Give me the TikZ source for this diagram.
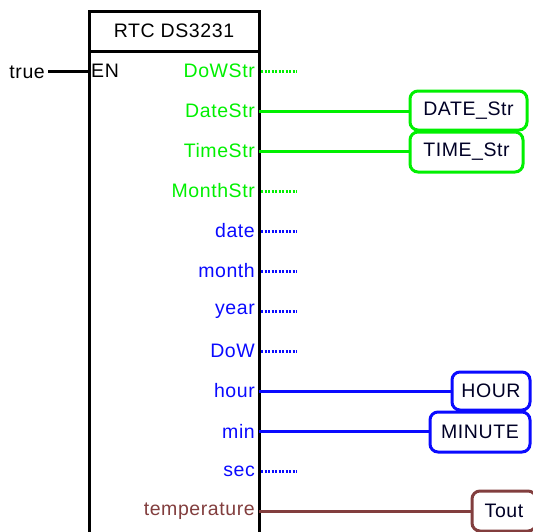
\documentclass[tikz,border=0pt]{standalone}
\usepackage{fontspec}
\setmainfont{Liberation Sans}[LetterSpace=3]
\begin{document}
\begin{tikzpicture}[x=1pt,y=-1pt,
  font=\fontsize{19.5}{20}\selectfont,
  lbl/.style={anchor=east,inner sep=0pt},
  wire/.style={line width=3pt},
  stub/.style={line width=3pt,dash pattern=on 2pt off 1.5pt},
  outbox/.style={draw,line width=3pt,rounded corners=8pt,fill=white,text=black!85!blue,inner sep=0pt,outer sep=0pt}]
\definecolor{pgreen}{RGB}{0,240,0}
\definecolor{pblue}{RGB}{10,10,255}
\definecolor{pbrown}{RGB}{130,62,62}
\useasboundingbox (0,0) rectangle (533,531);
\clip (0,0) rectangle (533,531);
% block
\node (blk) [draw,line width=3pt,anchor=north west,minimum width=170pt,minimum height=540pt,inner sep=0pt,outer sep=0pt] at (89,11) {};
\coordinate (hl) at (89,51);
\coordinate (hr) at (259,51);
\draw[line width=3pt] (hl) -- (hr);
\node (title) at (174,31) {RTC DS3231};
% enable input
\node (true) [anchor=east,inner sep=0pt] at (45,72) {true};
\coordinate (en) at (89,71);
\coordinate (tw) at (48,71);
\node (ENl) [anchor=west,inner sep=0pt] at (91,71) {EN};
\draw[line width=3pt] (tw) -- (en);
% pins
\foreach \nm/\txt/\col/\yy in {dows/DoWStr/pgreen/71, dates/DateStr/pgreen/111, times/TimeStr/pgreen/151, months/MonthStr/pgreen/191,
  date/date/pblue/231, month/month/pblue/271, year/year/pblue/311, dow/DoW/pblue/351, hour/hour/pblue/391, min/min/pblue/431,
  sec/sec/pblue/471, temp/temperature/pbrown/511}{
  \coordinate (p-\nm) at (259,\yy);
  \node (l-\nm) [lbl,text=\col] at (255,\yy) {\txt};
}
% unconnected stubs
\foreach \nm/\col in {dows/pgreen, months/pgreen, date/pblue, month/pblue, year/pblue, dow/pblue, sec/pblue}{
  \coordinate (e-\nm) at ([xshift=38pt]p-\nm);
  \draw[stub,draw=\col] ([xshift=2pt]p-\nm) -- (e-\nm);
}
% output variables
\node (DS) [outbox,draw=pgreen,minimum width=117pt,minimum height=39pt] at (468.5,110.5) {DATE\_Str};
\node (TS) [outbox,draw=pgreen,minimum width=113pt,minimum height=40pt] at (466.5,152) {TIME\_Str};
\node (HR) [outbox,draw=pblue,minimum width=78pt,minimum height=38pt] at (491,391) {HOUR};
\node (MN) [outbox,draw=pblue,minimum width=100pt,minimum height=40pt] at (480,432) {MINUTE};
\node (TO) [outbox,draw=pbrown,minimum width=64pt,minimum height=40pt] at (504,511) {Tout};
\draw[wire,pgreen] (p-dates) -- (p-dates -| DS.west);
\draw[wire,pgreen] (p-times) -- (p-times -| TS.west);
\draw[wire,pblue] (p-hour) -- (p-hour -| HR.west);
\draw[wire,pblue] (p-min) -- (p-min -| MN.west);
\draw[wire,pbrown] (p-temp) -- (p-temp -| TO.west);
\end{tikzpicture}
\end{document}
